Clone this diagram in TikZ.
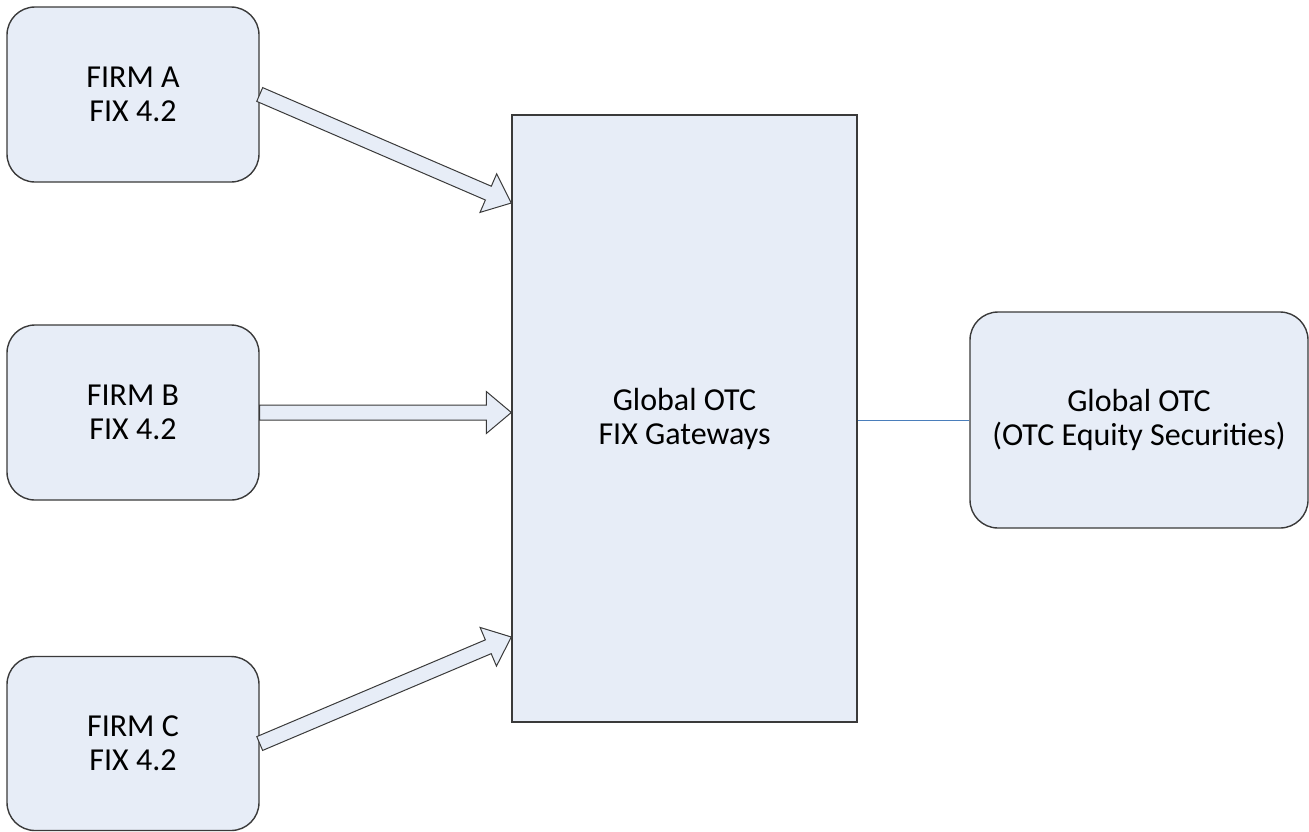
\documentclass[tikz,border=0pt]{standalone}
\usepackage{fontspec}
\setmainfont{Carlito}
\usetikzlibrary{calc}

\definecolor{boxfill}{HTML}{E7EDF7}
\definecolor{boxline}{HTML}{3A3A3A}
\definecolor{linkblue}{HTML}{4A7EBB}

\tikzset{
  firm/.style={draw=boxline, line width=0.7pt, fill=boxfill, rounded corners=14pt,
    minimum width=126pt, minimum height=87.5pt, align=center,
    font=\fontsize{16}{17}\selectfont},
  gateway/.style={draw=boxline, line width=0.7pt, fill=boxfill,
    minimum width=172.5pt, minimum height=303.5pt, align=center,
    font=\fontsize{16}{17}\selectfont},
  fatarrow/.style={draw=boxline, line width=0.5pt, fill=boxfill, line join=miter}
}

\begin{document}
\begin{tikzpicture}[x=0.5pt, y=-0.5pt]
	\useasboundingbox (0,0) rectangle (1309,831);
	% firms
	\node[firm] (firmA) at (133,94.5) {FIRM A\\FIX 4.2};
	\node[firm] (firmB) at (133,412.5) {FIRM B\\FIX 4.2};
	\node[firm, minimum height=87pt] (firmC) at (133,743.5) {FIRM C\\FIX 4.2};
	% gateway + market
	\node[gateway] (gw) at (684.5,418.5) {Global OTC\\FIX Gateways};
	\node[firm, minimum width=169pt, minimum height=108pt] (otc) at (1139,420) {Global OTC\\(OTC Equity Securities)};
	\draw[linkblue, line width=0.5pt] (gw.east |- otc.west) -- (otc.west);
	% tips on the gateway
	\coordinate (tipA) at (gw.west |- 0,203);
	\coordinate (tipB) at (gw.west |- firmB.east);
	\coordinate (tipC) at (gw.west |- 0,637);
	% block arrows
	\foreach \a/\b in {firmA.east/tipA, firmB.east/tipB, firmC.east/tipC} {
		\coordinate (hb) at ($(\b)!12.5pt!(\a)$);
		\draw[fatarrow] ($(\a)!3.75pt!90:(\b)$) -- ($(hb)!3.75pt!90:(\b)$)
			-- ($(hb)!10.5pt!90:(\b)$) -- (\b) -- ($(hb)!10.5pt!-90:(\b)$)
			-- ($(hb)!3.75pt!-90:(\b)$) -- ($(\a)!3.75pt!-90:(\b)$) -- cycle;
	}
\end{tikzpicture}
\end{document}
